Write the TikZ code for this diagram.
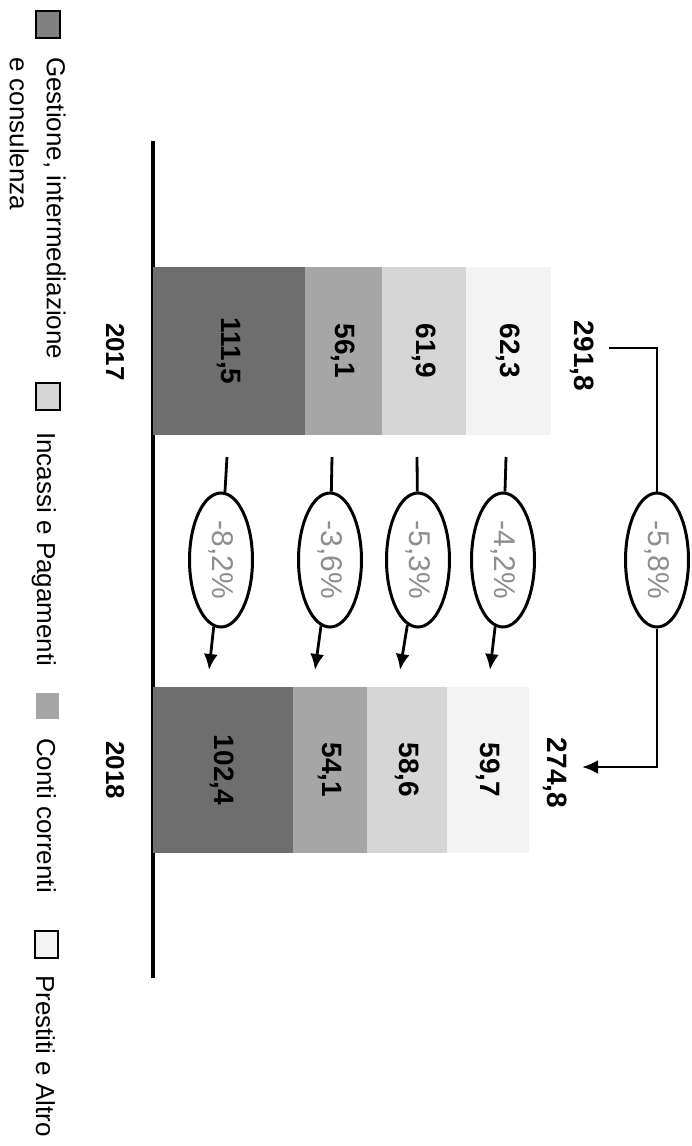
\documentclass[tikz,border=0pt]{standalone}
\usepackage{fontspec}
\setmainfont{Liberation Sans}
\usetikzlibrary{arrows.meta}
\usetikzlibrary{shapes.geometric}
\definecolor{segA}{HTML}{6E6E6E}
\definecolor{segB}{HTML}{A6A6A6}
\definecolor{segC}{HTML}{D6D6D6}
\definecolor{segD}{HTML}{F3F3F3}
\definecolor{legA}{HTML}{808080}
\definecolor{pctgray}{HTML}{8E8E8E}
\tikzset{val/.style = {rotate=-90, inner sep=0, font=\bfseries\fontsize{28}{28}\selectfont}}
\tikzset{yr/.style = {rotate=-90, inner sep=0, font=\bfseries\fontsize{26}{26}\selectfont}}
\tikzset{pct/.style = {draw, ellipse, fill=white, line width=3, rotate=-90, minimum width=134, minimum height=63,
                       inner sep=0, text=pctgray, font=\fontsize{30}{30}\selectfont}}
\tikzset{leg/.style = {rotate=-90, anchor=base west, inner sep=0, align=left, font=\fontsize{26}{37}\selectfont}}
\tikzset{box/.style = {draw, line width=2.2}}
\tikzset{arr/.style = {line width=2.8, -{Latex[length=16pt, width=14pt]}}}

\begin{document}
\begin{tikzpicture}[x=1pt, y=-1pt]
  \useasboundingbox (0, 0) rectangle (692, 1146);

  % legend
  \draw [box, fill=legA] (36, 11) rectangle (60, 38);
  \node [leg, anchor=north west] (lgA) at (66, 57) {Gestione, intermediazione\\e consulenza};
  \draw [box, fill=segC] (36, 383) rectangle (60, 410);
  \node [leg] (lgB) at (37, 432) {Incassi e Pagamenti};
  \fill [segB] (36, 693) rectangle (59, 719);
  \node [leg] (lgC) at (37, 738) {Conti correnti};
  \draw [box, fill=segD] (35, 931) rectangle (58, 958);
  \node [leg] (lgD) at (36, 975) {Prestiti e Altro};

  % axis
  \draw [line width=3.2] (153, 141) -- (153, 978);

  % 2017
  \fill [segA] (153, 267) rectangle (305, 435);
  \fill [segB] (305, 267) rectangle (382, 435);
  \fill [segC] (382, 267) rectangle (466, 435);
  \fill [segD] (466, 267) rectangle (551, 435);
  \node [val] (a17) at (229, 351) {111,5};
  \node [val] (b17) at (343, 351) {56,1};
  \node [val] (c17) at (424, 351) {61,9};
  \node [val] (d17) at (508, 351) {62,3};
  \node [val] (t17) at (582, 356) {291,8};
  \node [yr] (y17) at (115, 352) {2017};

  % 2018
  \fill [segA] (153, 687) rectangle (293, 853);
  \fill [segB] (293, 687) rectangle (367, 853);
  \fill [segC] (367, 687) rectangle (447, 853);
  \fill [segD] (447, 687) rectangle (529, 853);
  \node [val] (a18) at (222, 770) {102,4};
  \node [val] (b18) at (330, 770) {54,1};
  \node [val] (c18) at (407, 770) {58,6};
  \node [val] (d18) at (488, 770) {59,7};
  \node [val] (t18) at (555, 773) {274,8};
  \node [yr] (y18) at (115, 770) {2018};

  % changes
  \coordinate (sA) at (227, 457);
  \coordinate (eA) at (209, 670);
  \node [pct] (pA) at (221, 560) {-8,2\%};
  \draw [line width=2.8] (sA) -- (pA);
  \draw [arr] (pA) -- (eA);

  \coordinate (sB) at (332, 457);
  \coordinate (eB) at (315, 670);
  \node [pct] (pB) at (330, 560) {-3,6\%};
  \draw [line width=2.8] (sB) -- (pB);
  \draw [arr] (pB) -- (eB);

  \coordinate (sC) at (417, 457);
  \coordinate (eC) at (400, 670);
  \node [pct] (pC) at (418, 560) {-5,3\%};
  \draw [line width=2.8] (sC) -- (pC);
  \draw [arr] (pC) -- (eC);

  \coordinate (sD) at (506, 457);
  \coordinate (eD) at (490, 670);
  \node [pct] (pD) at (503, 560) {-4,2\%};
  \draw [line width=2.8] (sD) -- (pD);
  \draw [arr] (pD) -- (eD);

  % total
  \coordinate (s0) at (609, 348);
  \coordinate (e0) at (582, 767);
  \node [pct] (p0) at (657, 560) {-5,8\%};
  \draw [line width=2.8] (s0) -| (p0);
  \draw [arr] (p0) |- (e0);
\end{tikzpicture}
\end{document}
